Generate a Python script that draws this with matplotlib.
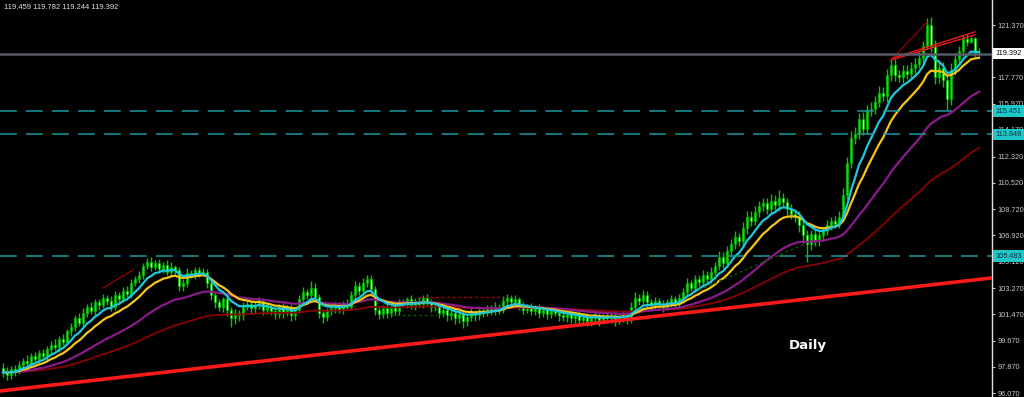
"""
Daily candlestick chart (MT4 style, black background) with EMAs,
horizontal levels, a rising trendline and a right-hand price scale.
Output: out.png (1024x397)
"""

import numpy as np
import pandas as pd
import matplotlib
matplotlib.use("Agg")
import matplotlib.pyplot as plt

# ── Data ──────────────────────────────────────────────────────────────────────

# daily closes, one per bar (245 bars, oldest first)
closes = [
    97.50, 97.30, 97.70, 97.55, 98.00, 98.30, 98.10, 98.60, 98.40, 98.80,
    98.60, 99.10, 99.40, 99.20, 99.80, 99.60, 100.30, 100.60, 101.20, 100.90,
    101.60, 102.00, 101.70, 102.30, 102.10, 102.60, 102.40, 102.00, 102.80, 102.50,
    103.10, 102.90, 103.60, 103.90, 104.20, 104.80, 105.10, 104.70, 105.00, 104.60,
    104.90, 104.40, 104.70, 104.50, 103.40, 103.60, 104.30, 104.20, 104.50, 104.30,
    104.40, 103.60, 102.80, 102.30, 102.00, 102.50, 101.80, 101.20, 101.60, 101.40,
    102.00, 102.20, 101.90, 102.10, 102.40, 101.80, 102.00, 101.70, 101.50, 102.00,
    101.60, 101.90, 101.40, 101.80, 102.50, 103.00, 102.80, 103.30, 102.70, 101.60,
    101.30, 101.70, 101.90, 102.10, 101.80, 102.20, 102.00, 102.80, 103.40, 103.10,
    103.60, 103.90, 103.20, 101.80, 101.50, 101.90, 101.60, 102.00, 101.70, 102.30,
    102.20, 102.50, 102.10, 102.40, 102.20, 102.60, 102.30, 102.00, 102.10, 101.60,
    101.80, 101.40, 101.60, 101.20, 101.50, 101.00, 101.30, 101.60, 101.40, 101.80,
    101.60, 101.90, 101.70, 102.00, 101.80, 102.40, 102.60, 102.30, 102.50, 102.10,
    101.80, 102.00, 101.70, 101.90, 101.60, 101.80, 101.50, 101.70, 101.60, 101.40,
    101.30, 101.50, 101.20, 101.40, 101.10, 101.30, 101.00, 101.20, 101.40, 101.10,
    101.30, 101.20, 101.40, 101.10, 101.30, 101.50, 101.20, 102.00, 102.60, 102.40,
    102.80, 102.30, 102.10, 102.40, 102.20, 102.00, 102.30, 102.50, 102.20, 102.60,
    103.00, 103.60, 103.30, 103.90, 103.70, 104.20, 103.90, 104.40, 104.80, 105.40,
    105.00, 105.80, 106.30, 106.80, 106.50, 107.40, 108.20, 107.90, 108.50, 108.90,
    109.10, 108.70, 109.30, 109.00, 109.50, 109.20, 108.70, 108.40, 108.20, 107.60,
    106.90, 106.30, 107.00, 106.60, 106.90, 107.20, 107.60, 107.90, 107.70, 108.20,
    109.70, 111.90, 113.60, 113.90, 114.90, 114.20, 115.50, 115.60, 116.10, 116.70,
    116.50, 117.90, 118.60, 117.90, 117.80, 118.20, 118.00, 118.40, 118.70, 119.10,
    119.90, 121.40, 119.90, 117.80, 118.40, 117.60, 116.30, 118.30, 119.00, 119.60,
    120.40, 120.20, 120.50, 119.459, 119.392,
]

# upper wick above the body, per bar
upper_wick = [
    0.30, 0.35, 0.20, 0.30, 0.25, 0.20, 0.35, 0.20, 0.30, 0.20,
    0.30, 0.20, 0.25, 0.35, 0.20, 0.30, 0.20, 0.30, 0.25, 0.40,
    0.30, 0.20, 0.35, 0.25, 0.20, 0.30, 0.20, 0.35, 0.25, 0.20,
    0.25, 0.35, 0.30, 0.20, 0.25, 0.20, 0.25, 0.35, 0.20, 0.30,
    0.20, 0.30, 0.35, 0.20, 0.20, 0.30, 0.35, 0.20, 0.25, 0.20,
    0.25, 0.20, 0.30, 0.20, 0.25, 0.20, 0.30, 0.20, 0.25, 0.20,
    0.30, 0.20, 0.25, 0.20, 0.30, 0.20, 0.25, 0.20, 0.30, 0.20,
    0.25, 0.20, 0.30, 0.20, 0.30, 0.35, 0.25, 0.45, 0.30, 0.20,
    0.25, 0.20, 0.30, 0.20, 0.25, 0.20, 0.30, 0.25, 0.35, 0.30,
    0.35, 0.30, 0.25, 0.20, 0.25, 0.20, 0.30, 0.20, 0.25, 0.20,
    0.25, 0.20, 0.30, 0.20, 0.25, 0.20, 0.30, 0.20, 0.25, 0.20,
    0.20, 0.25, 0.20, 0.30, 0.20, 0.25, 0.20, 0.30, 0.20, 0.25,
    0.20, 0.25, 0.20, 0.30, 0.20, 0.35, 0.25, 0.20, 0.30, 0.20,
    0.25, 0.20, 0.25, 0.20, 0.30, 0.20, 0.25, 0.20, 0.25, 0.20,
    0.25, 0.20, 0.25, 0.20, 0.30, 0.20, 0.25, 0.20, 0.25, 0.20,
    0.20, 0.25, 0.20, 0.25, 0.20, 0.30, 0.20, 0.35, 0.40, 0.30,
    0.35, 0.25, 0.20, 0.30, 0.20, 0.25, 0.20, 0.30, 0.25, 0.30,
    0.30, 0.35, 0.25, 0.30, 0.25, 0.30, 0.25, 0.35, 0.30, 0.40,
    0.35, 0.40, 0.35, 0.40, 0.30, 0.45, 0.40, 0.35, 0.40, 0.35,
    0.40, 0.35, 0.45, 0.40, 0.50, 0.35, 0.30, 0.35, 0.30, 0.35,
    0.40, 0.35, 0.30, 0.35, 0.30, 0.30, 0.35, 0.30, 0.35, 0.40,
    0.45, 0.40, 0.50, 0.45, 0.40, 0.50, 0.40, 0.45, 0.40, 0.45,
    0.40, 0.45, 0.40, 0.45, 0.40, 0.45, 0.40, 0.45, 0.40, 0.45,
    0.40, 0.45, 0.50, 0.45, 0.40, 0.45, 0.40, 0.45, 0.40, 0.35,
    0.30, 0.35, 0.05, 0.05, 0.323,
]

# lower wick below the body, per bar
lower_wick = [
    0.30, 0.35, 0.25, 0.30, 0.20, 0.30, 0.25, 0.20, 0.30, 0.25,
    0.20, 0.30, 0.25, 0.20, 0.30, 0.25, 0.20, 0.30, 0.25, 0.20,
    0.25, 0.30, 0.20, 0.25, 0.30, 0.20, 0.25, 0.30, 0.20, 0.25,
    0.20, 0.25, 0.30, 0.20, 0.25, 0.30, 0.20, 0.25, 0.20, 0.30,
    0.25, 0.20, 0.30, 0.25, 0.35, 0.30, 0.25, 0.20, 0.30, 0.25,
    0.20, 0.30, 0.35, 0.40, 0.30, 0.35, 0.45, 0.60, 0.40, 0.35,
    0.30, 0.25, 0.35, 0.30, 0.25, 0.35, 0.30, 0.25, 0.35, 0.30,
    0.35, 0.25, 0.40, 0.30, 0.25, 0.20, 0.25, 0.20, 0.30, 0.35,
    0.40, 0.30, 0.25, 0.30, 0.25, 0.30, 0.25, 0.20, 0.25, 0.30,
    0.20, 0.25, 0.30, 0.40, 0.35, 0.30, 0.35, 0.30, 0.25, 0.30,
    0.25, 0.30, 0.25, 0.30, 0.25, 0.30, 0.25, 0.35, 0.30, 0.35,
    0.30, 0.35, 0.30, 0.40, 0.30, 0.45, 0.35, 0.30, 0.35, 0.30,
    0.30, 0.25, 0.30, 0.25, 0.30, 0.25, 0.30, 0.25, 0.30, 0.35,
    0.30, 0.25, 0.30, 0.25, 0.35, 0.30, 0.35, 0.30, 0.25, 0.35,
    0.30, 0.35, 0.30, 0.35, 0.40, 0.30, 0.35, 0.30, 0.35, 0.40,
    0.30, 0.35, 0.30, 0.45, 0.30, 0.35, 0.40, 0.30, 0.25, 0.30,
    0.25, 0.30, 0.35, 0.25, 0.30, 0.35, 0.25, 0.30, 0.25, 0.30,
    0.25, 0.30, 0.25, 0.30, 0.25, 0.30, 0.25, 0.30, 0.25, 0.30,
    0.35, 0.30, 0.35, 0.30, 0.35, 0.30, 0.40, 0.35, 0.30, 0.35,
    0.30, 0.35, 0.30, 0.35, 0.40, 0.35, 0.40, 0.35, 0.40, 0.45,
    0.50, 1.20, 0.40, 0.45, 0.40, 0.35, 0.30, 0.35, 0.30, 0.30,
    0.30, 0.30, 0.35, 0.40, 0.35, 0.40, 0.35, 0.40, 0.35, 0.40,
    0.35, 0.40, 0.35, 0.40, 0.35, 0.40, 0.35, 0.40, 0.35, 0.30,
    0.35, 0.20, 0.40, 0.50, 0.45, 0.50, 0.80, 0.40, 0.35, 0.40,
    0.35, 0.30, 0.10, 0.30, 0.148,
]

FIRST_OPEN = 97.80

# EMA periods: cyan, yellow, purple, dark red
ema_periods = [8, 14, 36, 76]
ema_colors = ["#1ec8dc", "#f5c518", "#8b1a8b", "#8b0000"]
ema_widths = [1.6, 1.6, 1.6, 1.3]

# price scale (119.570 sits under the bid tag, so it is not shown)
tick_prices = [96.070, 97.870, 99.670, 101.470, 103.270, 105.120, 106.920,
               108.720, 110.520, 112.320, 114.170, 115.970, 117.770, 121.370]
Y_MIN, Y_MAX = 95.795, 123.089

# horizontal levels
bid_price = 119.392
dashed_levels = [115.451, 113.848, 105.483]

# main rising trendline (bar index, price) pairs
trend_main = [(0, 96.23), (244, 103.88)]

# small drawn objects: (bar0, price0, bar1, price1)
thin_red_lines = [(25, 103.29, 32.5, 104.53), (222, 118.96, 231, 121.58)]
bright_red_lines = [(222, 118.96, 243, 120.69), (222.5, 119.10, 243, 120.90)]
red_dotted = [(104, 102.69, 125, 102.69)]
green_dotted = [(97, 101.43, 108.5, 101.43), (174, 103.15, 201, 106.38)]

ohlc_text = "119.459 119.782 119.244 119.392"
period_label = "Daily"
period_label_pos = (201.25, 99.37)

# ── Derived ───────────────────────────────────────────────────────────────────

close = np.array(closes)
opens = np.r_[FIRST_OPEN, close[:-1]]          # FX daily: open = prior close
body_top = np.maximum(opens, close)
body_bot = np.minimum(opens, close)
highs = body_top + np.array(upper_wick)
lows = body_bot - np.array(lower_wick)
idx = np.arange(len(close))

# ── Plot ──────────────────────────────────────────────────────────────────────

BG = "black"
FG = "#c8c8c8"
TICK_FONT = ["Liberation Sans", "DejaVu Sans"]
TICK_SIZE = 5.3

fig = plt.figure(figsize=(10.24, 3.97), dpi=100, facecolor=BG)
ax = fig.add_axes([0, 0, 992 / 1024, 1])
ax.set_facecolor(BG)
ax.set_xlim(-0.75, 247.25)
ax.set_ylim(Y_MIN, Y_MAX)

# candles
ax.vlines(idx, lows, highs, color="#00c800", linewidth=1.0, zorder=2)
bull = close >= opens
heights = np.maximum(body_top - body_bot, 0.06)
ax.bar(idx[bull], heights[bull], bottom=body_bot[bull], width=0.7,
       color="#1ed81e", edgecolor="#00b400", linewidth=0.5, zorder=2.1)
ax.bar(idx[~bull], heights[~bull], bottom=body_bot[~bull], width=0.7,
       color="#a8ff88", edgecolor="#00b400", linewidth=0.5, zorder=2.1)

# moving averages
s = pd.Series(close)
for n, c, w in zip(ema_periods[::-1], ema_colors[::-1], ema_widths[::-1]):
    ema = s.ewm(span=n, adjust=False).mean()
    ax.plot(idx, ema, color=c, linewidth=w, zorder=3)

# trendline (ray over the whole chart)
(x0, p0), (x1, p1) = trend_main
ax.axline((x0, p0), (x1, p1), color="#ff1a1a", linewidth=2.6, zorder=4)

for b0, q0, b1, q1 in thin_red_lines:
    ax.plot([b0, b1], [q0, q1], color="#9a0000", linewidth=0.9, zorder=4)
for b0, q0, b1, q1 in bright_red_lines:
    ax.plot([b0, b1], [q0, q1], color="#e81c1c", linewidth=1.0, zorder=4)
for b0, q0, b1, q1 in red_dotted:
    ax.plot([b0, b1], [q0, q1], color="#b00000", linewidth=1.0,
            linestyle=(0, (2, 2)), zorder=4)
for b0, q0, b1, q1 in green_dotted:
    ax.plot([b0, b1], [q0, q1], color="#0a5a0a", linewidth=1.0,
            linestyle=(0, (2, 2)), zorder=4)

# levels
ax.axhline(bid_price, color="#555a66", linewidth=1.8, zorder=4)
for lv in dashed_levels:
    ax.axhline(lv, color="#1a9aa0", linewidth=1.1, linestyle=(0, (11, 6)),
               zorder=4)

# right price scale
for side in ["top", "left", "bottom"]:
    ax.spines[side].set_visible(False)
ax.spines["right"].set_color("#e0e0e0")
ax.spines["right"].set_linewidth(1.0)
ax.set_xticks([])
ax.yaxis.tick_right()
ax.set_yticks(tick_prices)
ax.set_yticklabels([f"{p:.3f}" for p in tick_prices])
ax.tick_params(axis="y", colors=FG, length=2.5, width=0.8, pad=1.5,
               labelsize=TICK_SIZE, direction="out")
for lab in ax.get_yticklabels():
    lab.set_family(TICK_FONT)

# price tags over the scale
def tag(price, face, text_color):
    ax.annotate(f"{price:.3f}", xy=(1, price), xycoords=("axes fraction", "data"),
                xytext=(2.6, 0), textcoords="offset points",
                ha="left", va="center", fontsize=TICK_SIZE, family=TICK_FONT,
                color=text_color, zorder=10, annotation_clip=False,
                bbox=dict(boxstyle="square,pad=0.3", fc=face, ec=face, lw=0))

tag(bid_price, "white", "black")
for lv in dashed_levels:
    tag(lv, "#1ec8c8", "#06304a")

# texts
fig.text(4 / 1024, 1 - 4 / 397, ohlc_text, color="#e6e6e6", fontsize=5.4,
         family=TICK_FONT, ha="left", va="top")
ax.text(*period_label_pos, period_label, color="white", fontsize=9.5,
        fontweight="bold", ha="center", va="center", zorder=6)

fig.savefig("out.png", dpi=100, facecolor=BG)
